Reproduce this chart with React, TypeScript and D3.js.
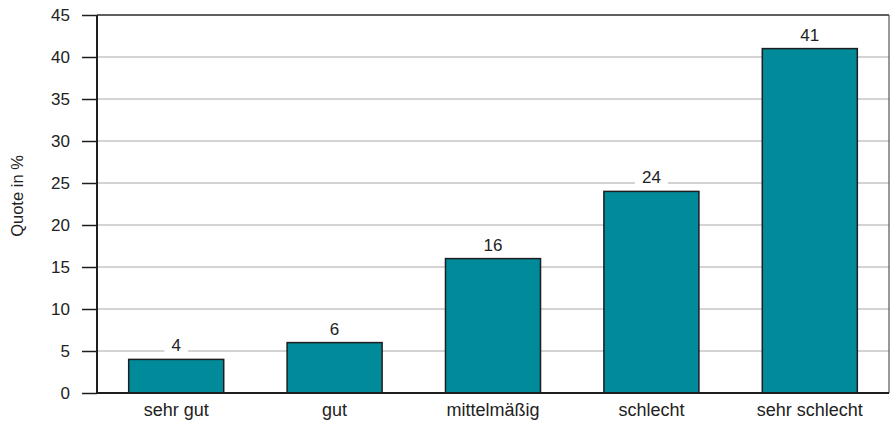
import React, { useEffect, useRef } from 'react';
import * as d3 from 'd3';

const categories = ['sehr gut', 'gut', 'mittelmäßig', 'schlecht', 'sehr schlecht'];
const values = [4, 6, 16, 24, 41];
const yTicks = [0, 5, 10, 15, 20, 25, 30, 35, 40, 45];
const yLabel = 'Quote in %';

const W = 891;
const H = 424;

const App: React.FC = () => {
  const svgRef = useRef<SVGSVGElement>(null);

  useEffect(() => {
    if (!svgRef.current) return;
    const svg = d3.select(svgRef.current);
    svg.selectAll('*').remove();

    const margin = { top: 15, right: 2, bottom: 31, left: 97 };
    const width = W - margin.left - margin.right;
    const height = H - margin.top - margin.bottom;
    const font = 'Liberation Sans, Arial, Helvetica, sans-serif';

    const g = svg.append('g').attr('transform', `translate(${margin.left},${margin.top})`);

    const x = d3.scaleBand().domain(categories).range([0, width]).paddingInner(0.4).paddingOuter(0.2);
    const y = d3.scaleLinear().domain([0, 45]).range([height, 0]);

    // Grid lines
    g.selectAll('.grid')
      .data(yTicks.filter(t => t > 0 && t < 45))
      .enter()
      .append('line')
      .attr('x1', 0)
      .attr('x2', width)
      .attr('y1', d => y(d))
      .attr('y2', d => y(d))
      .attr('stroke', '#a8a8a8')
      .attr('stroke-width', 1);

    // Frame top + right
    g.append('line').attr('x1', 0).attr('x2', width).attr('y1', 0).attr('y2', 0)
      .attr('stroke', '#2a2a2a').attr('stroke-width', 1.5);
    g.append('line').attr('x1', width).attr('x2', width).attr('y1', 0).attr('y2', height)
      .attr('stroke', '#555').attr('stroke-width', 1.2);

    // Bars
    g.selectAll('.bar')
      .data(values)
      .enter()
      .append('rect')
      .attr('x', (_, i) => x(categories[i]) || 0)
      .attr('y', d => y(d))
      .attr('width', x.bandwidth())
      .attr('height', d => height - y(d))
      .attr('fill', '#008a9a')
      .attr('stroke', '#1e1e1e')
      .attr('stroke-width', 1.5);

    // Value labels with white background
    const labels = g.selectAll('.vlabel')
      .data(values)
      .enter()
      .append('g')
      .attr('transform', (d, i) => `translate(${(x(categories[i]) || 0) + x.bandwidth() / 2},${y(d) - 8})`);
    labels.append('rect')
      .attr('x', d => -(String(d).length * 9.5) / 2 - 7)
      .attr('y', -13)
      .attr('width', d => String(d).length * 9.5 + 14)
      .attr('height', 16)
      .attr('fill', 'white');
    labels.append('text')
      .attr('text-anchor', 'middle')
      .attr('font-family', font)
      .attr('font-size', 17)
      .attr('fill', '#222')
      .text(d => d);

    // Y axis
    g.append('line').attr('x1', 0).attr('x2', 0).attr('y1', 0).attr('y2', height)
      .attr('stroke', '#1e1e1e').attr('stroke-width', 2);
    const yAxis = g.append('g')
      .call(d3.axisLeft(y).tickValues(yTicks).tickSize(15).tickPadding(12).tickSizeOuter(0));
    yAxis.select('.domain').remove();
    yAxis.selectAll('.tick line').attr('stroke', '#1e1e1e').attr('stroke-width', 1.5);
    yAxis.selectAll('.tick text')
      .attr('font-family', font)
      .attr('font-size', 17)
      .attr('fill', '#222');

    // X axis
    g.append('line').attr('x1', 0).attr('x2', width).attr('y1', height).attr('y2', height)
      .attr('stroke', '#1e1e1e').attr('stroke-width', 2);
    const xAxis = g.append('g')
      .attr('transform', `translate(0,${height})`)
      .call(d3.axisBottom(x).tickSize(0).tickPadding(10));
    xAxis.select('.domain').remove();
    xAxis.selectAll('.tick text')
      .attr('font-family', font)
      .attr('font-size', 18)
      .attr('fill', '#222')
      .attr('dy', '0.71em');

    // Y label
    svg.append('text')
      .attr('transform', `translate(23,196) rotate(-90)`)
      .attr('text-anchor', 'middle')
      .attr('font-family', font)
      .attr('font-size', 16.5)
      .attr('fill', '#222')
      .text(yLabel);
  }, []);

  return (
    <svg
      ref={svgRef}
      width={W}
      height={H}
      style={{ position: 'absolute', left: 0, top: 0, background: 'white' }}
    />
  );
};

export default App;
